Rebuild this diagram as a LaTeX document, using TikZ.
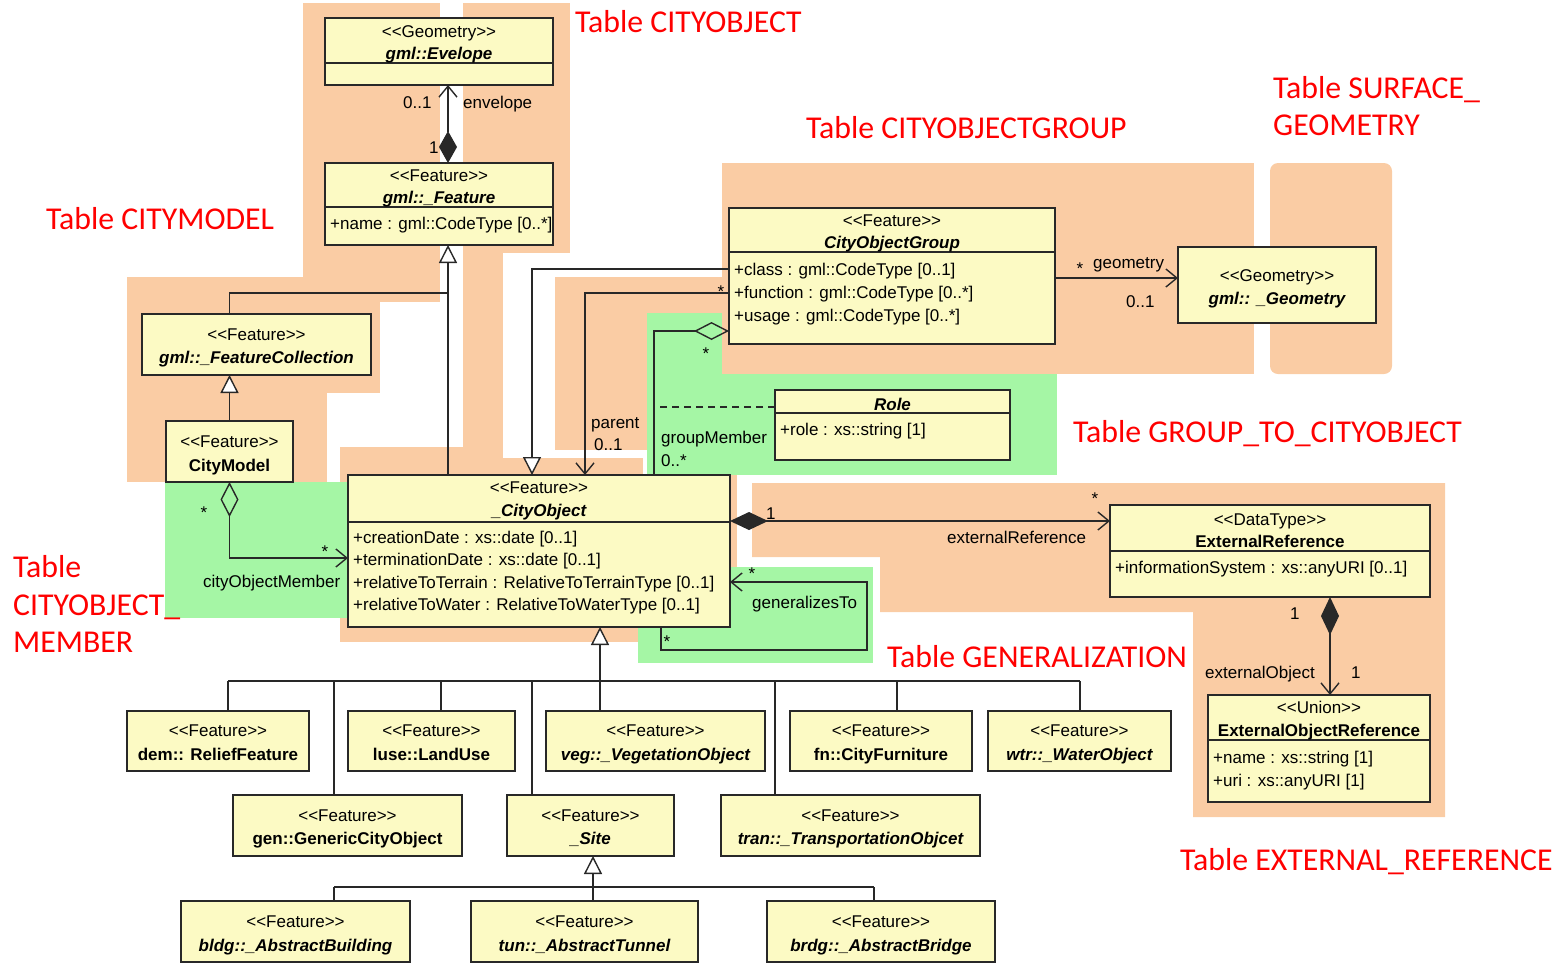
\documentclass[tikz,border=0pt]{standalone}
\usepackage{fontspec}
\newfontfamily\umlfont{Liberation Sans}
\newfontfamily\redfont{Carlito}
\usetikzlibrary{arrows.meta,calc}
\definecolor{peach}{RGB}{250,204,164}
\definecolor{lgreen}{RGB}{165,246,165}
\definecolor{boxfill}{RGB}{252,250,196}
\definecolor{ink}{RGB}{40,40,40}
\newcommand\usize{\fontsize{17}{19}\selectfont}
\newcommand\umlbox[5]{\node[ubox, minimum width={#4-#2}, minimum height={#5-#3}] (#1) at ({(#2+#4)/2},{(#3+#5)/2}) {};}
\newcommand\ust[3]{\node[utxt,anchor=base] (#1-st) at ($(#1.north)+(0,#2)$) {#3};}
\newcommand\unb[3]{\node[utxt,font=\umlfont\usize\bfseries,anchor=base] (#1-nm) at ($(#1.north)+(0,#2)$) {#3};}
\newcommand\uni[3]{\node[utxt,font=\umlfont\usize\bfseries\itshape,anchor=base] (#1-nm) at ($(#1.north)+(0,#2)$) {#3};}
\newcommand\uat[4]{\node[utxt,anchor=base west] (#1-#2) at ($(#1.north west)+(5,#3)$) {#4};}
\newcommand\udiv[2]{\draw[uline] ($(#1.north west)+(0,#2)$) -- ($(#1.north east)+(0,#2)$);}
\begin{document}
\begin{tikzpicture}[x=1pt,y=-1pt,
  ubox/.style={draw=ink, fill=boxfill, line width=1.6pt, inner sep=0pt, outer sep=0pt},
  utxt/.style={font=\umlfont\usize, inner sep=0pt, text=black},
  uline/.style={draw=ink, line width=1.5pt},
  conn/.style={draw=ink, line width=1.4pt},
  barb/.style={-{Straight Barb[length=11pt,width=18pt]}},
  gentri/.style={-{Triangle[length=18pt,width=18pt,fill=white,line width=1.4pt]}},
  lab/.style={utxt, anchor=base west},
  star/.style={utxt, anchor=base},
  redlab/.style={font=\redfont\fontsize{31.8}{37}\selectfont, text=red, inner sep=0pt, anchor=base west}]
\useasboundingbox (0,0) rectangle (1564,962);
% ---------------- background regions
\fill[peach] (303,3) rectangle (440,302);
\fill[peach] (127,277) rectangle (440,302);
\fill[peach] (127,302) rectangle (380,393);
\fill[peach] (127,393) rectangle (327,482);
\fill[peach] (463,3) rectangle (570,253);
\fill[peach] (463,253) rectangle (503,450);
\fill[peach] (340,447) rectangle (503,642);
\fill[peach] (503,458) rectangle (643,642);
\fill[peach] (643,475) rectangle (737,567);
\fill[peach] (555,277) rectangle (647,450);
\fill[peach] (555,277) rectangle (730,313);
\fill[lgreen] (647,313) rectangle (1057,475);
\fill[peach] (722,163) rectangle (1254,374);
\fill[peach, rounded corners=8pt] (1270,163) rectangle (1392,374);
\fill[peach] (752,483) -- (1445,483) -- (1445,817) -- (1193,817) -- (1193,612) -- (880,612) -- (880,557) -- (752,557) -- cycle;
\fill[lgreen] (165,482) rectangle (348,618);
\fill[lgreen] (638,567) rectangle (873,663);
% ---------------- classes
\umlbox{evelope}{325}{18}{553}{85}
\umlbox{feature}{325}{163}{553}{245}
\umlbox{fcoll}{142}{314}{371}{375}
\umlbox{citymodel}{166}{421}{293}{482}
\umlbox{cityobject}{348}{475}{730}{627}
\umlbox{cog}{729}{208}{1055}{344}
\umlbox{geom}{1178}{247}{1376}{323}
\umlbox{role}{775}{390}{1010}{460}
\umlbox{extref}{1110}{505}{1430}{597}
\umlbox{extobj}{1208}{695}{1430}{802}
\umlbox{dem}{127}{711}{309}{771}
\umlbox{luse}{348}{711}{515}{771}
\umlbox{veg}{546}{711}{765}{771}
\umlbox{fn}{790}{711}{972}{771}
\umlbox{wtr}{988}{711}{1171}{771}
\umlbox{gen}{233}{795}{462}{856}
\umlbox{site}{507}{795}{674}{856}
\umlbox{tran}{721}{795}{980}{856}
\umlbox{bldg}{181}{901}{410}{962}
\umlbox{tun}{471}{901}{698}{962}
\umlbox{brdg}{767}{901}{995}{962}
% dividers
\udiv{evelope}{45}
\udiv{feature}{44}
\udiv{cityobject}{47}
\udiv{cog}{44}
\udiv{role}{23}
\udiv{extref}{46}
\udiv{extobj}{45}
% texts
\ust{evelope}{19}{<<Geometry>>}
\uni{evelope}{41}{gml::Evelope}
\ust{feature}{18}{<<Feature>>}
\uni{feature}{40}{gml::\_Feature}
\uat{feature}{a1}{66}{+name : gml::CodeType [0..*]}
\ust{fcoll}{26}{<<Feature>>}
\uni{fcoll}{49}{gml::\_FeatureCollection}
\ust{citymodel}{26}{<<Feature>>}
\unb{citymodel}{50}{CityModel}
\ust{cityobject}{18}{<<Feature>>}
\uni{cityobject}{41}{\_CityObject}
\uat{cityobject}{a1}{68}{+creationDate : xs::date [0..1]}
\uat{cityobject}{a2}{90}{+terminationDate : xs::date [0..1]}
\uat{cityobject}{a3}{113}{+relativeToTerrain : RelativeToTerrainType [0..1]}
\uat{cityobject}{a4}{135}{+relativeToWater : RelativeToWaterType [0..1]}
\ust{cog}{18}{<<Feature>>}
\uni{cog}{40}{CityObjectGroup}
\uat{cog}{a1}{67}{+class : gml::CodeType [0..1]}
\uat{cog}{a2}{90}{+function : gml::CodeType [0..*]}
\uat{cog}{a3}{113}{+usage : gml::CodeType [0..*]}
\ust{geom}{34}{<<Geometry>>}
\uni{geom}{57}{gml:: \_Geometry}
\uni{role}{20}{Role}
\uat{role}{a1}{45}{+role : xs::string [1]}
\ust{extref}{20}{<<DataType>>}
\unb{extref}{42}{ExternalReference}
\uat{extref}{a1}{68}{+informationSystem : xs::anyURI [0..1]}
\ust{extobj}{18}{<<Union>>}
\unb{extobj}{41}{ExternalObjectReference}
\uat{extobj}{a1}{68}{+name : xs::string [1]}
\uat{extobj}{a2}{91}{+uri : xs::anyURI [1]}
\ust{dem}{25}{<<Feature>>}
\unb{dem}{49}{dem:: ReliefFeature}
\ust{luse}{25}{<<Feature>>}
\unb{luse}{49}{luse::LandUse}
\ust{veg}{25}{<<Feature>>}
\uni{veg}{49}{veg::\_VegetationObject}
\ust{fn}{25}{<<Feature>>}
\unb{fn}{49}{fn::CityFurniture}
\ust{wtr}{25}{<<Feature>>}
\uni{wtr}{49}{wtr::\_WaterObject}
\ust{gen}{26}{<<Feature>>}
\unb{gen}{49}{gen::GenericCityObject}
\ust{site}{26}{<<Feature>>}
\uni{site}{49}{\_Site}
\ust{tran}{26}{<<Feature>>}
\uni{tran}{49}{tran::\_TransportationObjcet}
\ust{bldg}{26}{<<Feature>>}
\uni{bldg}{50}{bldg::\_AbstractBuilding}
\ust{tun}{26}{<<Feature>>}
\uni{tun}{50}{tun::\_AbstractTunnel}
\ust{brdg}{26}{<<Feature>>}
\uni{brdg}{50}{brdg::\_AbstractBridge}
% ---------------- connectors
\coordinate (xenv) at (448,0);
\draw[conn, {Diamond[length=32pt,width=18pt]}-{Straight Barb[length=11pt,width=18pt]}] (feature.north -| xenv) -- (evelope.south -| xenv);
\draw[conn, gentri] (cityobject.north -| xenv) -- (feature.south -| xenv);
\coordinate (jfc) at (448,293);
\draw[conn] (fcoll.north -| citymodel.north) |- (jfc);
\draw[conn, gentri] (citymodel.north) -- (fcoll.south -| citymodel.north);
\coordinate (ycm) at (0,558);
\draw[conn, {Diamond[open,length=35pt,width=18pt]}-{Straight Barb[length=11pt,width=18pt]}] (citymodel.south) |- (cityobject.west |- ycm);
\coordinate (gcog) at (532,269);
\draw[conn, gentri] (cog.west |- gcog) -| (cityobject.north -| gcog);
\coordinate (par) at (585,293);
\draw[conn, barb] (cog.west |- par) -| (cityobject.north -| par);
\coordinate (gm) at (654,331);
\draw[conn, {Diamond[open,length=35pt,width=18pt]}-] (cog.west |- gm) -| (cityobject.north -| gm);
\coordinate (rl) at (660,407);
\draw[conn, dash pattern=on 7pt off 5pt] (role.west |- rl) -- (rl);
\coordinate (geo) at (0,278);
\draw[conn, barb] (cog.east |- geo) -- (geom.west |- geo);
\coordinate (er) at (0,521);
\draw[conn, {Diamond[length=38pt,width=18pt]}-{Straight Barb[length=11pt,width=18pt]}] (cityobject.east |- er) -- (extref.west |- er);
\coordinate (eo) at (1330,0);
\draw[conn, {Diamond[length=38pt,width=18pt]}-{Straight Barb[length=11pt,width=18pt]}] (extref.south -| eo) -- (extobj.north -| eo);
\coordinate (gtA) at (661,650);
\coordinate (gtB) at (867,582);
\draw[conn, barb] (cityobject.south -| gtA) -- (gtA) -| (gtB) -- (cityobject.east |- gtB);
% generalization tree
\coordinate (d1) at (228,681);
\coordinate (d2) at (334,681);
\coordinate (d3) at (441,681);
\coordinate (d4) at (532,681);
\coordinate (d5) at (600,681);
\coordinate (d6) at (775,681);
\coordinate (d7) at (897,681);
\coordinate (d8) at (1080,681);
\draw[conn] (d1) -- (d8);
\draw[conn, line width=2.4pt, gentri] (d5) -- (cityobject.south -| d5);
\draw[conn, line width=2.4pt] (d5) -- (veg.north -| d5);
\draw[conn] (d1) -- (dem.north -| d1);
\draw[conn] (d2) -- (gen.north -| d2);
\draw[conn] (d3) -- (luse.north -| d3);
\draw[conn] (d4) -- (site.north -| d4);
\draw[conn] (d6) -- (tran.north -| d6);
\draw[conn] (d7) -- (fn.north -| d7);
\draw[conn] (d8) -- (wtr.north -| d8);
\coordinate (s1) at (334,887);
\coordinate (s2) at (593,887);
\coordinate (s3) at (874,887);
\draw[conn] (s1) -- (s3);
\draw[conn, gentri] (tun.north -| s2) -- (site.south -| s2);
\draw[conn] (s1) -- (bldg.north -| s1);
\draw[conn] (s3) -- (brdg.north -| s3);
% ---------------- connector labels
\node[lab] (l1) at (403,108) {0..1};
\node[lab] (l2) at (463,108) {envelope};
\node[lab] (l3) at (429,153) {1};
\node[lab] (l4) at (591,428) {parent};
\node[lab] (l5) at (594,450) {0..1};
\node[lab] (l6) at (661,443) {groupMember};
\node[lab] (l7) at (661,466) {0..*};
\node[star] (l8) at (706,359) {*};
\node[star] (l9) at (721,297) {*};
\node[star] (l10) at (1080,274) {*};
\node[lab] (l11) at (1093,268) {geometry};
\node[lab] (l12) at (1126,307) {0..1};
\node[lab] (l13) at (766,519) {1};
\node[lab] (l14) at (947,543) {externalReference};
\node[star] (l15) at (1095,504) {*};
\node[lab] (l16) at (1290,619) {1};
\node[lab] (l17) at (1205,678) {externalObject};
\node[lab] (l18) at (1351,678) {1};
\node[lab] (l19) at (752,608) {generalizesTo};
\node[star] (l20) at (752,579) {*};
\node[star] (l21) at (667,647) {*};
\node[lab] (l22) at (203,587) {cityObjectMember};
\node[star] (l23) at (204,518) {*};
\node[star] (l24) at (325,557) {*};
% ---------------- table labels
\node[redlab] (t1) at (575,32) {Table CITYOBJECT};
\node[redlab] (t2) at (1273,98) {Table SURFACE\_};
\node[redlab] (t3) at (1273,135) {GEOMETRY};
\node[redlab] (t4) at (806,138) {Table CITYOBJECTGROUP};
\node[redlab] (t5) at (46,229) {Table CITYMODEL};
\node[redlab] (t6) at (1073,442) {Table GROUP\_TO\_CITYOBJECT};
\node[redlab] (t7) at (13,577) {Table};
\node[redlab] (t8) at (13,615) {CITYOBJECT\_};
\node[redlab] (t9) at (13,652) {MEMBER};
\node[redlab] (t10) at (887,667) {Table GENERALIZATION};
\node[redlab] (t11) at (1180,870) {Table EXTERNAL\_REFERENCE};
\end{tikzpicture}
\end{document}
